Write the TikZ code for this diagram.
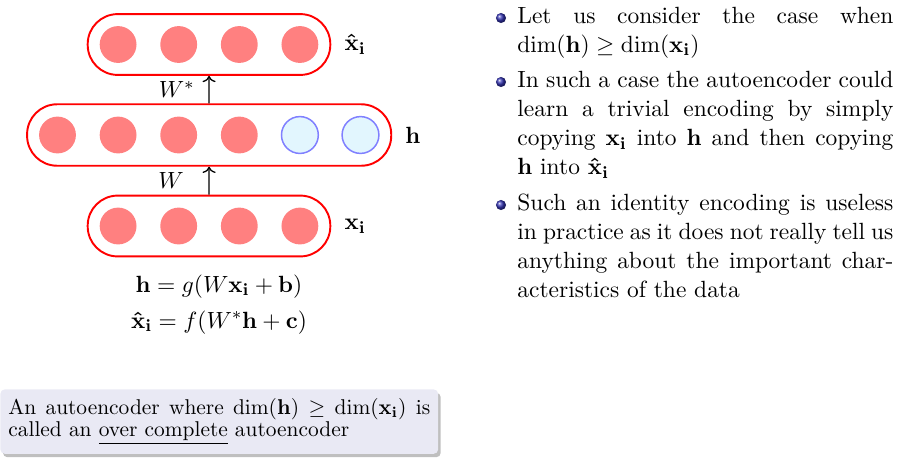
\documentclass[tikz,border=0pt]{standalone}
\usepackage{amsmath}
\usepackage{tikz}
\usetikzlibrary{
  arrows.meta,
  positioning,
  fit,
  shadows
}
\definecolor{unitred}{RGB}{255,128,128}
\definecolor{unitblue}{RGB}{128,128,255}
\definecolor{unitfill}{RGB}{226,246,254}
\definecolor{blockbody}{RGB}{233,233,244}
\definecolor{structblue}{rgb}{0.2,0.2,0.7}

\begin{document}
\begin{tikzpicture}[
  x=0.467pt, y=-0.467pt,
  unit/.style={circle, fill=unitred, minimum size=17.2pt, inner sep=0pt},
  spare/.style={unit, draw=unitblue, line width=0.7pt, fill=unitfill},
  layerbox/.style={rectangle, draw=red, line width=0.9pt, rounded corners=14pt, inner sep=5.4pt},
  arr/.style={->, semithick},
  lbl/.style={inner sep=0pt, font=\fontsize{10.95}{13.6}\selectfont},
  eqn/.style={anchor=base, inner sep=0pt, font=\fontsize{10.95}{13.6}\selectfont},
  itemtext/.style={anchor=base west, text width=175.6pt, align=justify, inner sep=0pt, font=\fontsize{10.95}{13.6}\selectfont},
  ballmark/.style={circle, shading=ball, ball color=structblue, minimum size=4.7pt, inner sep=0pt},
  blockbox/.style={rectangle, fill=blockbody, rounded corners=2pt, text width=197pt, align=justify, inner xsep=3.7pt, inner ysep=4pt, font=\fontsize{10}{10.6}\selectfont, drop shadow={shadow xshift=1.2pt, shadow yshift=-1.6pt, opacity=0.5}}
]
  \useasboundingbox (0,0) rectangle (908,470);

  % output layer
  \foreach \i in {1,...,4}
    \node[unit] (o\i) at ({209+(\i-2.5)*60.6}, 44.5) {};
  % hidden layer
  \foreach \i in {1,...,4}
    \node[unit] (h\i) at ({209+(\i-3.5)*60.6}, 135) {};
  \foreach \i in {5,6}
    \node[spare] (h\i) at ({209+(\i-3.5)*60.6}, 135) {};
  % input layer
  \foreach \i in {1,...,4}
    \node[unit] (x\i) at ({209+(\i-2.5)*60.6}, 226) {};

  \node[layerbox, fit=(o1)(o4)] (outbox) {};
  \node[layerbox, fit=(h1)(h6)] (hidbox) {};
  \node[layerbox, fit=(x1)(x4)] (inbox) {};

  \node[lbl, right=6pt of outbox] (xhat) {$\mathbf{\hat{x}_i}$};
  \node[lbl, right=6pt of hidbox] (hlab) {$\mathbf{h}$};
  \node[lbl, right=6pt of inbox] (xlab) {$\mathbf{x_i}$};

  \draw[arr] (inbox) -- node[lbl, left=11.5pt] (wlab) {$W$} (hidbox);
  \draw[arr] (hidbox) -- node[lbl, left=6.5pt] (wslab) {$W^{*}$} (outbox);

  \node[eqn] (eqh) at (219, 292) {$\mathbf{h} = g(W\mathbf{x_i} + \mathbf{b})$};
  \node[eqn] (eqx) at (219, 328) {$\mathbf{\hat{x}_i} = f(W^{*}\mathbf{h} + \mathbf{c})$};

  \node[blockbox, anchor=north west] (note) at (0, 389) {An autoencoder where $\dim(\mathbf{h}) \geq \dim(\mathbf{x_i})$ is\linebreak called an \underline{over complete} autoencoder};

  % bullet points
  \node[ballmark] (b1) at (501, 18) {};
  \node[ballmark] (b2) at (501, 82) {};
  \node[ballmark] (b3) at (501, 205) {};
  \node[itemtext] (p1) at (517, 23) {Let us consider the case when\linebreak $\dim(\mathbf{h}) \geq \dim(\mathbf{x_i})$};
  \node[itemtext] (p2) at (517, 87) {In such a case the autoencoder could\linebreak learn a trivial encoding by simply\linebreak copying $\mathbf{x_i}$ into $\mathbf{h}$ and then copying\linebreak $\mathbf{h}$ into $\mathbf{\hat{x}_i}$};
  \node[itemtext] (p3) at (517, 210) {Such an identity encoding is useless\linebreak in practice as it does not really tell us\linebreak anything about the important char-\linebreak acteristics of the data};
\end{tikzpicture}
\end{document}
